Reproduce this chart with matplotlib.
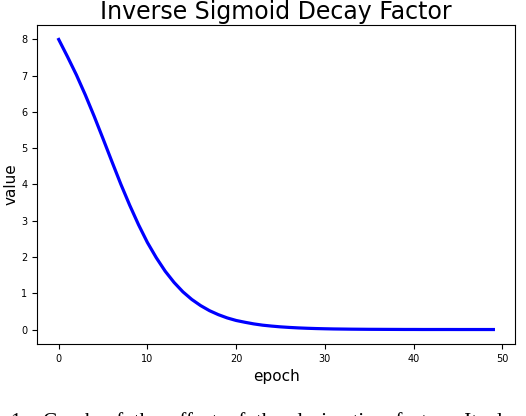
import matplotlib
matplotlib.use("Agg")
import matplotlib.pyplot as plt

# values, one per epoch
epochs = list(range(50))
values = [8.00, 7.52, 7.02, 6.47, 5.88, 5.26, 4.63, 4.01, 3.43, 2.89,
          2.40, 1.98, 1.61, 1.30, 1.04, 0.83, 0.66, 0.52, 0.41, 0.32,
          0.25, 0.20, 0.155, 0.12, 0.095, 0.074, 0.058, 0.045, 0.035, 0.027,
          0.021, 0.016, 0.013, 0.010, 0.008, 0.006, 0.005, 0.004, 0.003, 0.002,
          0.002, 0.001, 0.001, 0.001, 0.001, 0.0005, 0.0005, 0.0004, 0.0003, 0.0002]

title = "Inverse Sigmoid Decay Factor"
caption = "1:   Graph  of  the  effect  of  the  decimation  factor.   It  al"

fig = plt.figure(figsize=(5.26, 4.16), dpi=100)
ax = fig.add_axes([0.0703, 0.173, 0.909, 0.767])

ax.plot(epochs, values, color="blue", linewidth=2.3)

ax.set_title(title, fontsize=17, pad=4.5)
ax.set_xlabel("epoch", fontsize=11)
ax.set_ylabel("value", fontsize=11, labelpad=2)
ax.set_xticks([0, 10, 20, 30, 40, 50])
ax.set_yticks(range(9))
ax.tick_params(labelsize=7, length=3.5, width=0.8)

# caption of the paper, only the top of it shows at the bottom edge
fig.text(0.02, -0.026, caption, fontsize=15, family="Liberation Serif",
         ha="left", va="baseline")

fig.savefig("out.png", dpi=100)
